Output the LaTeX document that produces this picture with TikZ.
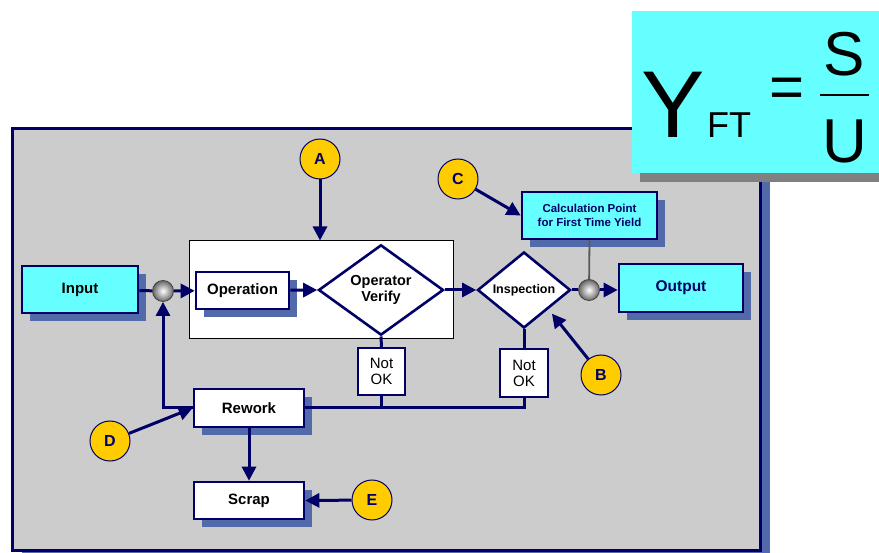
\documentclass[tikz,border=0pt]{standalone}
\usepackage{fontspec}
\setmainfont{Liberation Sans}
\usetikzlibrary{shapes.geometric,arrows.meta,shadows,calc}
\definecolor{navy}{RGB}{0,0,102}
\definecolor{shadowblue}{RGB}{82,106,170}
\definecolor{panelgray}{RGB}{204,204,204}
\definecolor{cyanfill}{RGB}{102,255,255}
\definecolor{gold}{RGB}{255,204,0}
\begin{document}
\begin{tikzpicture}[x=1pt,y=-1pt,
  sbox/.style={draw=navy,line width=2.6pt,fill=white,font=\fontsize{15}{17}\selectfont\bfseries,inner sep=0pt,
    general shadow={fill=shadowblue,shadow xshift=8pt,shadow yshift=-8pt}},
  cbox/.style={sbox,fill=cyanfill},
  nok/.style={draw=navy,line width=2.4pt,fill=white,inner sep=0pt,align=center,font=\fontsize{15}{16}\selectfont},
  dia/.style={diamond,draw=navy,line width=2.6pt,fill=white,inner sep=0pt,align=center,font=\bfseries},
  lbl/.style={circle,draw=navy,line width=1pt,fill=gold,minimum size=40pt,inner sep=0pt,text=navy,font=\fontsize{16}{16}\selectfont\bfseries},
  junc/.style={circle,draw=black!75,line width=0.8pt,minimum size=21pt,inner sep=0pt,shading=radial,inner color=white,outer color=black!60},
  arr/.style={draw=navy,line width=3pt,-{Triangle[length=14pt,width=14pt]}},
  ln/.style={draw=navy,line width=3pt}
]
\useasboundingbox (0,0) rectangle (879,553);
% panel
\fill[shadowblue] (22,139) rectangle (770,560);
\draw[navy,line width=3pt,fill=panelgray] (12,129) rectangle (760,550);
% formula
\fill[black!50] (640,20) rectangle (879,182);
\fill[cyanfill] (632,11) rectangle (879,173);
\node[anchor=base west,inner sep=0pt,font=\fontsize{95}{95}\selectfont] (Y) at (641,138) {Y};
\node[anchor=base west,inner sep=0pt,font=\fontsize{36}{36}\selectfont] (FT) at (707,138) {FT};
\node[inner sep=0pt,font=\fontsize{60}{60}\selectfont] (eq) at (787,93) {=};
\node[anchor=base,inner sep=0pt,font=\fontsize{62}{62}\selectfont] (S) at (844,76) {S};
\node[anchor=base,inner sep=0pt,font=\fontsize{62}{62}\selectfont] (U) at (845,163) {U};
\coordinate (fb1) at (820,95);
\coordinate (fb2) at (869,95);
\draw[line width=2pt] (fb1) -- (fb2);
% big white box
\node[draw=black,line width=1pt,fill=white,minimum width=264pt,minimum height=98pt,inner sep=0pt] (big) at (321,290) {};
% nodes
\node[cbox,minimum width=116pt,minimum height=47pt] (in) at (80,289.5) {Input};
\node[sbox,minimum width=93pt,minimum height=37pt] (op) at (242.5,290.5) {Operation};
\node[dia,minimum width=125pt,minimum height=78pt,font=\fontsize{14.5}{16}\selectfont\bfseries] (ov) at (381,290) {Operator\\Verify};
\node[dia,minimum width=93pt,minimum height=76pt,font=\fontsize{12.5}{13}\selectfont\bfseries] (insp) at (524,290) {Inspection};
\node[cbox,minimum width=124pt,minimum height=48pt,text=navy,font=\fontsize{15.5}{16}\selectfont\bfseries] (out) at (681,288) {Output};
\node[cbox,minimum width=135pt,minimum height=47pt,text=navy,align=center,font=\fontsize{11.5}{13.5}\selectfont\bfseries] (calc) at (589.5,215.5) {Calculation Point\\for First Time Yield};
\node[nok,minimum width=47pt,minimum height=47pt] (nok1) at (381.5,371.5) {Not\\OK};
\node[nok,minimum width=48pt,minimum height=48pt] (nok2) at (524,373) {Not\\OK};
\node[sbox,minimum width=110pt,minimum height=38pt] (rw) at (249,408) {Rework};
\node[sbox,minimum width=110pt,minimum height=37pt] (scrap) at (249,500.5) {Scrap};
\node[junc] (j1) at (163,291) {};
\node[junc] (j2) at (589,290) {};
\node[lbl] (A) at (320,159) {A};
\node[lbl] (B) at (601,375) {B};
\node[lbl] (C) at (458,179) {C};
\node[lbl] (D) at (110,441) {D};
\node[lbl] (E) at (372,500) {E};
% connectors
\draw[arr] (A) -- (A |- big.north);
\draw[ln] (in) -- (j1);
\draw[arr] (j1) -- (op);
\draw[arr] (op) -- (ov.west);
\draw[arr] (ov.east) -- (insp.west);
\draw[ln] (insp.east) -- (j2);
\draw[arr] (j2) -- (out.west |- j2);
\draw[black!65,line width=1.8pt] (calc.south) -- (j2);
\draw[arr] (C) -- (calc.west);
\draw[arr] (B) -- ($(insp.south east)+(4,4)$);
\draw[ln] (ov.south) -- (nok1.north);
\draw[ln] (insp.south) -- (nok2.north);
\draw[ln] (nok1.south) -- (nok1.south |- rw.east);
\draw[ln] (nok2.south) |- (rw.east);
\draw[arr] (rw.west) -| (j1.south);
\draw[arr] (D) -- (rw.west);
\draw[arr] (rw) -- (scrap);
\draw[arr] (E) -- (scrap.east);
\end{tikzpicture}
\end{document}
